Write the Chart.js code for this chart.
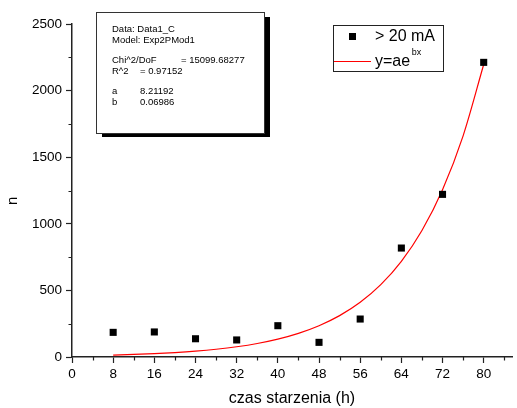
<!DOCTYPE html>
<html>
<head>
<meta charset="utf-8">
<script src="https://cdn.jsdelivr.net/npm/chart.js@4"></script>
<style>
  html, body { margin: 0; padding: 0; background: #fff; }
  #box { position: relative; width: 517px; height: 408px; }
</style>
</head>
<body>
<div id="box"><canvas id="chart1"></canvas></div>
<script>
// measured points
var hours = [8, 16, 24, 32, 40, 48, 56, 64, 72, 80];
var counts = [185, 188, 137, 128, 235, 110, 285, 818, 1221, 2212];
// fitted curve y=ae^bx
var fitHours = [8, 12, 16, 20, 24, 28, 32, 36, 40, 44, 48, 52, 56, 60, 64, 68, 72, 76, 80];
var fitCounts = [14.4, 19.0, 25.1, 33.2, 43.9, 58.1, 76.8, 101.5, 134.3, 177.6, 234.8, 310.5, 410.6, 543.0, 718.1, 949.6, 1255.7, 1660.5, 2195.9];
// ticks
var xTicks = [0, 8, 16, 24, 32, 40, 48, 56, 64, 72, 80];
var xMinor = [4, 12, 20, 28, 36, 44, 52, 60, 68, 76, 84];
var yTicks = [0, 500, 1000, 1500, 2000, 2500];
var yMinor = [250, 750, 1250, 1750, 2250];
// fit report
var fitReport = [
    ['Data: Data1_C', ''],
    ['Model: Exp2PMod1', ''],
    null,
    ['Chi^2/DoF', '= 15099.68277'],
    ['R^2', '= 0.97152'],
    null,
    ['a', '8.21192'],
    ['b', '0.06986']
];

var FONT = "'Liberation Sans', Arial, sans-serif";

// minor ticks, text box and legend
var extras = {
    id: 'extras',
    afterDraw: function(chart) {
        var ctx = chart.ctx;
        var xs = chart.scales.x, ys = chart.scales.y;
        ctx.save();
        ctx.strokeStyle = '#222';
        ctx.lineWidth = 1.2;
        ctx.beginPath();
        xMinor.forEach(function(v) {
            var px = Math.round(xs.getPixelForValue(v)) + 0.5;
            ctx.moveTo(px, xs.top);
            ctx.lineTo(px, xs.top + 3.5);
        });
        yMinor.forEach(function(v) {
            var py = Math.round(ys.getPixelForValue(v)) + 0.5;
            ctx.moveTo(ys.right, py);
            ctx.lineTo(ys.right - 3.5, py);
        });
        ctx.stroke();

        // fit report box with shadow
        ctx.fillStyle = '#000';
        ctx.fillRect(102, 131, 168, 6);
        ctx.fillRect(265, 17, 5, 120);
        ctx.fillStyle = '#fff';
        ctx.fillRect(96.5, 12.5, 168, 121);
        ctx.strokeStyle = '#333';
        ctx.lineWidth = 1;
        ctx.strokeRect(96.5, 12.5, 168, 121);
        ctx.fillStyle = '#000';
        ctx.font = '9.5px ' + FONT;
        ctx.textBaseline = 'middle';
        ctx.textAlign = 'left';
        var ly = 29.5;
        fitReport.forEach(function(row) {
            if (row) {
                ctx.fillText(row[0], 112, ly);
                if (row[1]) {
                    var cx = row[0] === 'Chi^2/DoF' ? 181 : 140;
                    ctx.fillText(row[1], cx, ly);
                }
                ly += 10.4;
            } else {
                ly += 10.2;
            }
        });

        // legend
        ctx.fillStyle = '#fff';
        ctx.fillRect(333.5, 25.5, 110, 46);
        ctx.strokeStyle = '#222';
        ctx.lineWidth = 1;
        ctx.strokeRect(333.5, 25.5, 110, 46);
        ctx.fillStyle = '#000';
        ctx.fillRect(349, 33, 7, 7);
        ctx.font = '16px ' + FONT;
        ctx.fillText('> 20 mA', 375, 37);
        ctx.fillText('y=ae', 375, 62);
        var w = ctx.measureText('y=ae').width;
        ctx.font = '9px ' + FONT;
        ctx.fillText('bx', 375 + w + 1.5, 53);
        ctx.beginPath();
        ctx.strokeStyle = 'rgb(255,0,0)';
        ctx.lineWidth = 1.2;
        ctx.moveTo(334, 61.5);
        ctx.lineTo(371, 61.5);
        ctx.stroke();
        ctx.restore();
    }
};

var ctx1 = document.getElementById('chart1').getContext('2d');
var chart1 = new Chart(ctx1, {
    type: 'scatter',
    data: {
        datasets: [
            {
                label: '> 20 mA',
                data: hours.map(function(h, i) { return {x: h, y: counts[i]}; }),
                pointStyle: 'rect',
                pointRadius: 5,
                backgroundColor: '#000',
                borderColor: '#000',
                borderWidth: 0,
                order: 1
            },
            {
                label: 'y=ae^bx',
                data: fitHours.map(function(h, i) { return {x: h, y: fitCounts[i]}; }),
                showLine: true,
                pointRadius: 0,
                borderColor: '#ff0000',
                borderWidth: 1.2,
                cubicInterpolationMode: 'monotone',
                order: 2
            }
        ]
    },
    options: {
        responsive: true,
        maintainAspectRatio: false,
        animation: false,
        layout: {
            padding: {top: 24, right: 0, left: 0, bottom: 0}
        },
        plugins: {
            legend: {
                display: false,
            },
            tooltip: {
                enabled: false
            }
        },
        scales: {
            x: {
                type: 'linear',
                min: 0,
                max: 85.5,
                afterBuildTicks: function(scale) {
                    scale.ticks = xTicks.map(function(v) { return {value: v}; });
                },
                afterFit: function(scale) { scale.height = 51; },
                grid: {
                    drawOnChartArea: false,
                    tickLength: 6,
                    tickWidth: 1.2,
                    tickColor: '#222'
                },
                border: {
                    color: '#222',
                    width: 1.5
                },
                ticks: {
                    color: '#000',
                    padding: 3,
                    maxRotation: 0,
                    font: {family: FONT, size: 13.5},
                    callback: function(v) { return String(v); }
                },
                title: {
                    display: true,
                    text: 'czas starzenia (h)',
                    color: '#000',
                    padding: 0,
                    font: {family: FONT, size: 16}
                }
            },
            y: {
                min: 0,
                max: 2500,
                afterBuildTicks: function(scale) {
                    scale.ticks = yTicks.map(function(v) { return {value: v}; });
                },
                afterFit: function(scale) { scale.width = 72; },
                grid: {
                    drawOnChartArea: false,
                    tickLength: 6,
                    tickWidth: 1.2,
                    tickColor: '#222'
                },
                border: {
                    color: '#222',
                    width: 1.5
                },
                ticks: {
                    color: '#000',
                    padding: 4,
                    font: {family: FONT, size: 13.5},
                    callback: function(v) { return String(v); }
                },
                title: {
                    display: true,
                    text: 'n\u00a0\u00a0\u00a0\u00a0\u00a0',
                    color: '#000',
                    padding: {top: 4, bottom: 0},
                    font: {family: FONT, size: 15}
                }
            }
        }
    },
    plugins: [extras]
});
</script>
</body>
</html>
